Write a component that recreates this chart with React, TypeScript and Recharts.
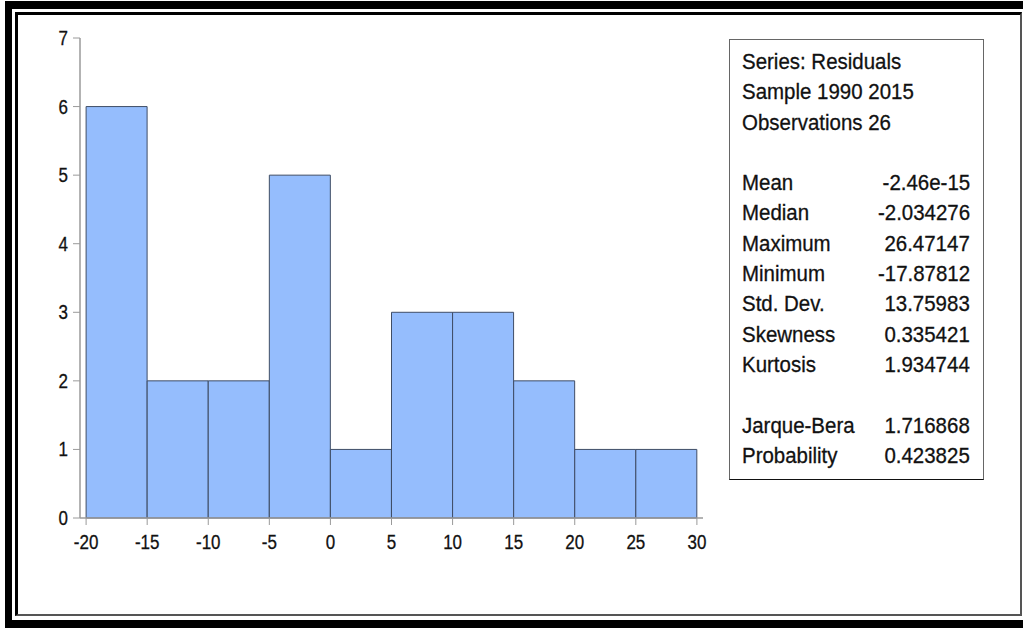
import React from "react";
import { BarChart, Bar, XAxis, YAxis } from "recharts";

// histogram bins (left edge of each 5-wide bin) and their counts
const binStarts = [-20, -15, -10, -5, 0, 5, 10, 15, 20, 25];
const counts = [6, 2, 2, 5, 1, 3, 3, 2, 1, 1];
const xTicks = [-20, -15, -10, -5, 0, 5, 10, 15, 20, 25, 30];
const yTicks = [0, 1, 2, 3, 4, 5, 6, 7];

const headerLines = ["Series: Residuals", "Sample 1990 2015", "Observations 26"];
const statNames = ["Mean", "Median", "Maximum", "Minimum", "Std. Dev.", "Skewness", "Kurtosis"];
const statValues = ["-2.46e-15", "-2.034276", "26.47147", "-17.87812", "13.75983", "0.335421", "1.934744"];
const testNames = ["Jarque-Bera", "Probability"];
const testValues = ["1.716868", "0.423825"];

const BIN_WIDTH = 5;
const data = binStarts.map((start, i) => ({ mid: start + BIN_WIDTH / 2, count: counts[i] }));

const FONT = "'Liberation Sans', Arial, sans-serif";
const AXIS_GRAY = "#9a9a9a";
const TICK_FONT = 19.5;
const SQUEEZE = 0.87; // EViews text is a bit narrower than Arial

const XTick = (props: any) => {
  const { x, y, payload } = props;
  return (
    <text
      transform={`translate(${x},${y + 22}) scale(${SQUEEZE},1)`}
      textAnchor="middle"
      fontSize={TICK_FONT}
      fontFamily={FONT}
      fill="#111"
      stroke="#111"
      strokeWidth={0.3}
    >
      {payload.value}
    </text>
  );
};

const YTick = (props: any) => {
  const { x, y, payload } = props;
  return (
    <text
      transform={`translate(${x - 3},${y + 7}) scale(${SQUEEZE},1)`}
      textAnchor="end"
      fontSize={TICK_FONT}
      fontFamily={FONT}
      fill="#111"
      stroke="#111"
      strokeWidth={0.3}
    >
      {payload.value}
    </text>
  );
};

const LINE_H = 30.3;
const squeezeText = (origin: string): React.CSSProperties => ({
  display: "inline-block",
  transform: "scaleX(0.93)",
  transformOrigin: origin,
  whiteSpace: "nowrap",
});

const Row = ({ label, value }: { label: string; value?: string }) => (
  <div style={{ display: "flex", justifyContent: "space-between", height: LINE_H, lineHeight: `${LINE_H}px` }}>
    <span style={squeezeText("left")}>{label}</span>
    <span style={squeezeText("right")}>{value}</span>
  </div>
);

const App = () => {
  return (
    <div style={{ position: "relative", width: 1023, height: 628, background: "#fff", overflow: "hidden" }}>
      <style>{`body{margin:0}`}</style>

      {/* outer heavy frame */}
      <div style={{ position: "absolute", left: 5, top: 1, width: 1018, height: 8, background: "#000" }} />
      <div style={{ position: "absolute", left: 5, top: 1, width: 7, height: 627, background: "#000" }} />
      <div style={{ position: "absolute", left: 5, top: 620, width: 1018, height: 8, background: "#000" }} />
      {/* inner frame */}
      <div
        style={{
          position: "absolute",
          left: 15,
          top: 12,
          width: 1002,
          height: 599,
          borderTop: "3px solid #000",
          borderLeft: "3px solid #000",
          borderRight: "2px solid #555",
          borderBottom: "2px solid #555",
        }}
      />

      <div style={{ position: "absolute", left: 0, top: 0 }}>
        <BarChart
          width={720}
          height={600}
          data={data}
          margin={{ top: 38, right: 17, bottom: 52, left: 0 }}
          barCategoryGap={0}
          barGap={0}
        >
          <XAxis
            dataKey="mid"
            type="number"
            domain={[-20.5, 30.5]}
            ticks={xTicks}
            allowDataOverflow
            interval={0}
            height={30}
            tick={<XTick />}
            tickLine={{ stroke: AXIS_GRAY }}
            tickSize={7}
            axisLine={{ stroke: AXIS_GRAY, strokeWidth: 1.5 }}
          />
          <XAxis
            xAxisId="top"
            orientation="top"
            type="number"
            domain={[-20.5, 30.5]}
            height={0}
            tick={false}
            tickLine={false}
            axisLine={{ stroke: AXIS_GRAY, strokeWidth: 1.5 }}
          />
          <YAxis
            type="number"
            domain={[0, 7]}
            ticks={yTicks}
            interval={0}
            width={80}
            tick={<YTick />}
            tickLine={{ stroke: AXIS_GRAY }}
            tickSize={7}
            axisLine={{ stroke: AXIS_GRAY, strokeWidth: 1.5 }}
          />
          <YAxis
            yAxisId="right"
            orientation="right"
            type="number"
            domain={[0, 7]}
            width={0}
            tick={false}
            tickLine={false}
            axisLine={{ stroke: AXIS_GRAY, strokeWidth: 1.5 }}
          />
          <Bar dataKey="count" fill="#95bdfd" stroke="#3f4d66" strokeWidth={1} isAnimationActive={false} />
        </BarChart>
      </div>

      {/* statistics box */}
      <div
        style={{
          position: "absolute",
          left: 729,
          top: 39,
          width: 255,
          height: 441,
          boxSizing: "border-box",
          border: "1px solid #666",
          borderBottom: "1.5px solid #111",
          padding: "7px 13px 0 12px",
          fontFamily: FONT,
          fontSize: 22,
          color: "#111",
          WebkitTextStroke: "0.3px #111",
        }}
      >
        {headerLines.map((t) => (
          <Row key={t} label={t} />
        ))}
        <Row label="" />
        {statNames.map((n, i) => (
          <Row key={n} label={n} value={statValues[i]} />
        ))}
        <Row label="" />
        {testNames.map((n, i) => (
          <Row key={n} label={n} value={testValues[i]} />
        ))}
      </div>
    </div>
  );
};

export default App;
